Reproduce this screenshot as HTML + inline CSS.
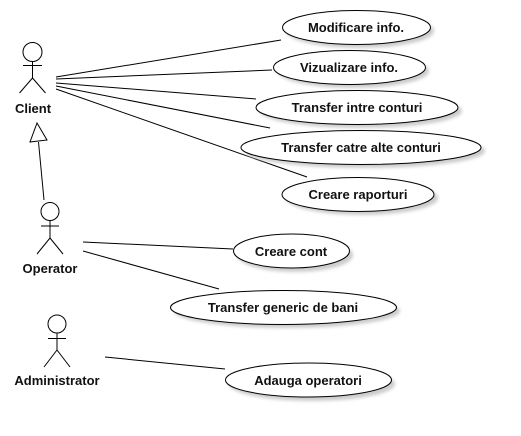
<!DOCTYPE html>
<html><head><style>
html,body{margin:0;padding:0;background:#fff;}
svg{display:block;}
text{font-family:"Liberation Sans",sans-serif;font-weight:bold;font-size:13px;fill:#111;}
</style></head><body>
<svg width="521" height="436" viewBox="0 0 521 436" xmlns="http://www.w3.org/2000/svg">
<defs>
<filter id="sh" x="-10%" y="-30%" width="130%" height="180%"><feGaussianBlur stdDeviation="1.5"/></filter>
</defs>
<g stroke="#000" stroke-width="1" fill="none">
<circle cx="32.5" cy="52" r="9.5" fill="#fff"/>
<line x1="32.5" y1="61.5" x2="32.5" y2="78"/>
<line x1="23" y1="65.5" x2="42" y2="65.5"/>
<line x1="32.5" y1="78" x2="19.5" y2="93"/>
<line x1="32.5" y1="78" x2="45.5" y2="93"/>
<circle cx="50" cy="211.5" r="9" fill="#fff"/>
<line x1="50" y1="220.5" x2="50" y2="238"/>
<line x1="41" y1="226" x2="59" y2="226"/>
<line x1="50" y1="238" x2="37" y2="254"/>
<line x1="50" y1="238" x2="63" y2="254"/>
<circle cx="57" cy="324" r="9" fill="#fff"/>
<line x1="57" y1="333" x2="57" y2="350"/>
<line x1="48" y1="338.5" x2="66" y2="338.5"/>
<line x1="57" y1="350" x2="44" y2="367"/>
<line x1="57" y1="350" x2="70" y2="367"/>
<line x1="44" y1="200" x2="38.5" y2="142"/>
<polygon points="37,123 30,142 47,140" fill="#fff"/>
<line x1="56" y1="77" x2="281" y2="40"/>
<line x1="56" y1="79" x2="272" y2="70"/>
<line x1="56" y1="83" x2="256" y2="99"/>
<line x1="56" y1="86" x2="270" y2="128"/>
<line x1="56" y1="89" x2="307" y2="177"/>
<line x1="83" y1="242" x2="233" y2="249"/>
<line x1="83" y1="251" x2="219" y2="289"/>
<line x1="105" y1="357" x2="225" y2="369"/>
</g>
<g>
<ellipse cx="360" cy="31" rx="74" ry="17" fill="#ccc" filter="url(#sh)"/>
<ellipse cx="353" cy="71" rx="76" ry="17" fill="#ccc" filter="url(#sh)"/>
<ellipse cx="361" cy="111" rx="101" ry="17" fill="#ccc" filter="url(#sh)"/>
<ellipse cx="365" cy="151" rx="120" ry="17" fill="#ccc" filter="url(#sh)"/>
<ellipse cx="362" cy="198" rx="76" ry="17" fill="#ccc" filter="url(#sh)"/>
<ellipse cx="295" cy="255" rx="58" ry="17" fill="#ccc" filter="url(#sh)"/>
<ellipse cx="287" cy="311" rx="113" ry="17" fill="#ccc" filter="url(#sh)"/>
<ellipse cx="312" cy="384" rx="83" ry="17" fill="#ccc" filter="url(#sh)"/>
</g>
<g stroke="#000" stroke-width="1" fill="#fff">
<ellipse cx="356.5" cy="27.5" rx="74" ry="17"/>
<ellipse cx="349.5" cy="67.5" rx="76" ry="17"/>
<ellipse cx="357" cy="107.5" rx="101" ry="17"/>
<ellipse cx="361" cy="147.5" rx="120" ry="17"/>
<ellipse cx="358" cy="194.5" rx="76" ry="17"/>
<ellipse cx="291.5" cy="251" rx="58" ry="17"/>
<ellipse cx="283.5" cy="307.5" rx="113" ry="17"/>
<ellipse cx="308.5" cy="380" rx="83" ry="17"/>
</g>
<g text-anchor="middle">
<text x="33" y="113">Client</text>
<text x="50" y="273">Operator</text>
<text x="57" y="385">Administrator</text>
<text x="356" y="32">Modificare info.</text>
<text x="349" y="72">Vizualizare info.</text>
<text x="357" y="112">Transfer intre conturi</text>
<text x="361" y="152">Transfer catre alte conturi</text>
<text x="358" y="199">Creare raporturi</text>
<text x="291" y="256">Creare cont</text>
<text x="283" y="312">Transfer generic de bani</text>
<text x="308" y="385">Adauga operatori</text>
</g>
</svg>
</body></html>
